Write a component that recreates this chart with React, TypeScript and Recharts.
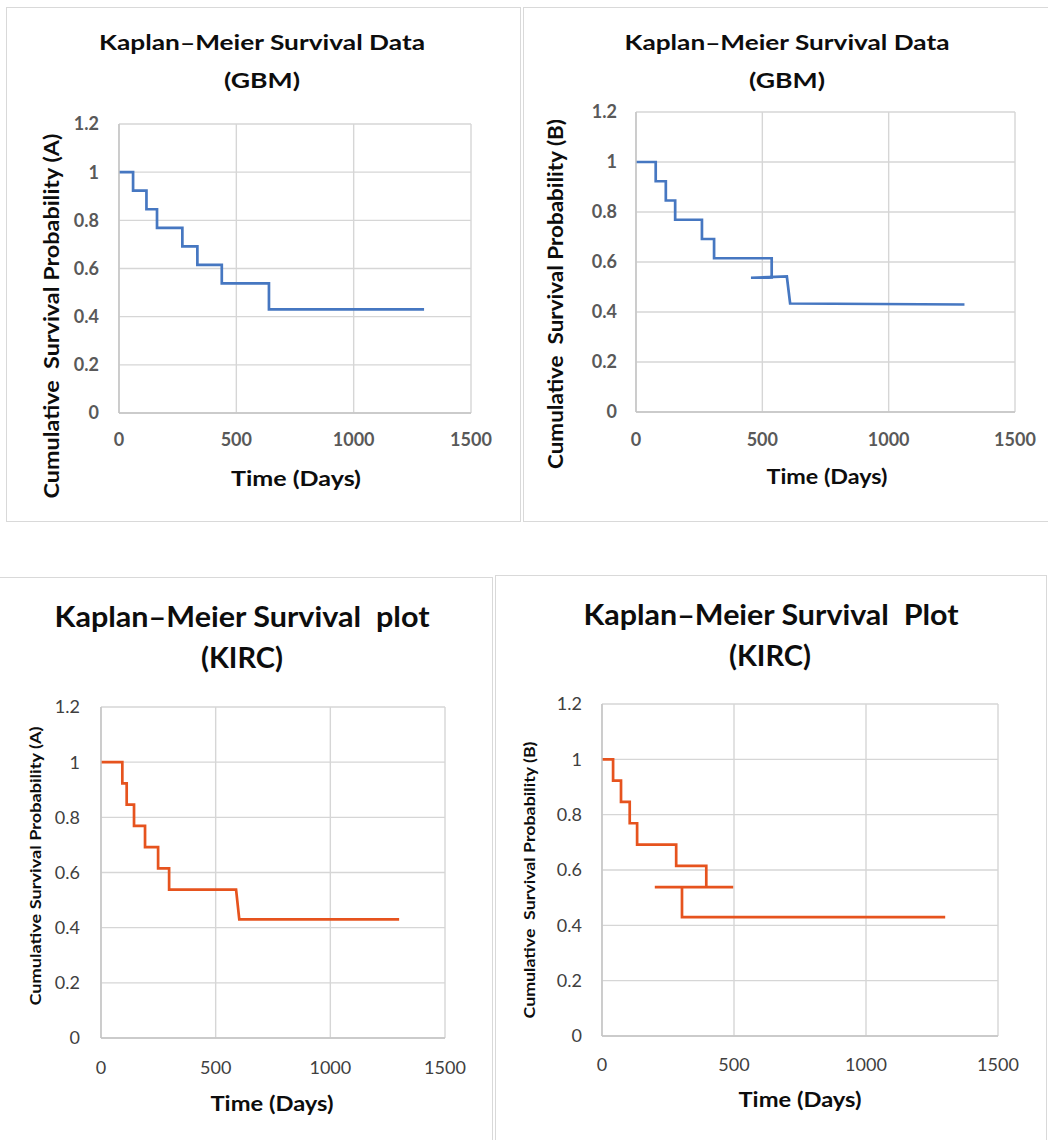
import React from "react";
import { LineChart, Line, XAxis, YAxis, CartesianGrid } from "recharts";

// axis ticks shared by all four plots
const xTicks = [0, 500, 1000, 1500];
const yTicks = [0, 0.2, 0.4, 0.6, 0.8, 1, 1.2];

// GBM (A) - step curve vertices
const gbmATime = [0, 60, 60, 117, 117, 162, 162, 270, 270, 334, 334, 438, 438, 639, 639, 1300];
const gbmASurv = [1, 1, 0.923, 0.923, 0.846, 0.846, 0.769, 0.769, 0.692, 0.692, 0.615, 0.615, 0.538, 0.538, 0.43, 0.43];

// GBM (B)
const gbmBTime = [0, 78, 78, 118, 118, 155, 155, 261, 261, 309, 309, 537, 537, 455, 597, 610, 1300];
const gbmBSurv = [1, 1, 0.923, 0.923, 0.846, 0.846, 0.769, 0.769, 0.692, 0.692, 0.615, 0.615, 0.537, 0.537, 0.542, 0.434, 0.43];

// KIRC (A)
const kircATime = [0, 93, 93, 112, 112, 144, 144, 192, 192, 249, 249, 297, 297, 589, 603, 1300];
const kircASurv = [1, 1, 0.923, 0.923, 0.846, 0.846, 0.769, 0.769, 0.692, 0.692, 0.615, 0.615, 0.538, 0.538, 0.43, 0.43];

// KIRC (B)
const kircBTime = [0, 42, 42, 72, 72, 105, 105, 133, 133, 281, 281, 395, 395, 497, 200, 303, 303, 1300];
const kircBSurv = [1, 1, 0.923, 0.923, 0.846, 0.846, 0.769, 0.769, 0.692, 0.692, 0.615, 0.615, 0.538, 0.538, 0.538, 0.538, 0.43, 0.43];

const BLUE = "#4677c1";
const ORANGE = "#e6531e";
const FONT = "Lato, 'Open Sans', sans-serif";

const toPoints = (time: number[], surv: number[]) =>
  time.map((t, i) => ({ t, s: surv[i] }));

interface PlotRect {
  l: number;
  t: number;
  r: number;
  b: number;
}

interface KMPanelProps {
  plot: PlotRect;
  time: number[];
  surv: number[];
  color: string;
  tickSize: number;
  tickBold: boolean;
  tickColor: string;
  xGap: number;
  yGap: number;
}

const Y_W = 60;
const X_H = 60;
const M = { top: 15, right: 30, bottom: 0, left: 0 };

const KMPanel = ({ plot, time, surv, color, tickSize, tickBold, tickColor, xGap, yGap }: KMPanelProps) => {
  const width = plot.r - plot.l + Y_W + M.right;
  const height = plot.b - plot.t + M.top + X_H;
  const tick = {
    fill: tickColor,
    fontSize: tickSize,
    fontWeight: tickBold ? 700 : 400,
    fontFamily: FONT,
  };
  return (
    <div style={{ position: "absolute", left: plot.l - Y_W, top: plot.t - M.top }}>
      <LineChart width={width} height={height} data={toPoints(time, surv)} margin={M}>
        <CartesianGrid stroke="#d6d6d6" strokeWidth={1.4} />
        <XAxis
          dataKey="t"
          type="number"
          domain={[0, 1500]}
          ticks={xTicks}
          height={X_H}
          tick={tick}
          tickLine={false}
          tickSize={0}
          tickMargin={xGap}
          axisLine={{ stroke: "#c4c4c4", strokeWidth: 1.4 }}
          allowDataOverflow
        />
        <YAxis
          type="number"
          domain={[0, 1.2]}
          ticks={yTicks}
          width={Y_W}
          tick={tick}
          tickLine={false}
          tickSize={0}
          tickMargin={yGap}
          axisLine={{ stroke: "#c4c4c4", strokeWidth: 1.4 }}
        />
        <Line
          type="linear"
          dataKey="s"
          stroke={color}
          strokeWidth={2.7}
          dot={false}
          isAnimationActive={false}
        />
      </LineChart>
    </div>
  );
};

interface CaptionProps {
  x: number;
  y: number;
  size: number;
  length: number;
  text: string;
  rotate?: boolean;
}

// title / axis title text, sized to the width it takes in the original
const Caption = ({ x, y, size, length, text, rotate }: CaptionProps) => (
  <text
    x={x}
    y={y}
    textAnchor="middle"
    fontFamily={FONT}
    fontWeight={700}
    fontSize={size}
    fill="#0d0d0d"
    textLength={length}
    lengthAdjust="spacingAndGlyphs"
    style={{ whiteSpace: "pre" }}
    transform={rotate ? `rotate(-90 ${x} ${y})` : undefined}
  >
    {text}
  </text>
);

const box = (left: number, top: number, width: number, height: number): React.CSSProperties => ({
  position: "absolute",
  left,
  top,
  width,
  height,
  boxSizing: "border-box",
  border: "1.5px solid #d9d9d9",
});

export default function App() {
  return (
    <div
      style={{
        position: "absolute",
        left: 0,
        top: 0,
        width: 1048,
        height: 1140,
        overflow: "hidden",
        background: "#fff",
      }}
    >
      <div style={box(6, 7, 515, 515)} />
      <div style={box(523, 7, 540, 515)} />
      <div style={box(-4, 577, 497, 600)} />
      <div style={box(495, 575, 552, 600)} />

      <KMPanel plot={{ l: 119, t: 124, r: 471, b: 413 }} time={gbmATime} surv={gbmASurv} color={BLUE} tickSize={18} tickBold tickColor="#595959" xGap={20} yGap={20} />
      <KMPanel plot={{ l: 636, t: 112, r: 1015, b: 412 }} time={gbmBTime} surv={gbmBSurv} color={BLUE} tickSize={18} tickBold tickColor="#595959" xGap={21} yGap={19} />
      <KMPanel plot={{ l: 101, t: 707, r: 445, b: 1038 }} time={kircATime} surv={kircASurv} color={ORANGE} tickSize={18} tickBold={false} tickColor="#404040" xGap={23} yGap={21} />
      <KMPanel plot={{ l: 602, t: 704, r: 998, b: 1036 }} time={kircBTime} surv={kircBSurv} color={ORANGE} tickSize={18} tickBold={false} tickColor="#404040" xGap={22} yGap={20} />

      <svg
        width={1048}
        height={1140}
        style={{ position: "absolute", left: 0, top: 0, pointerEvents: "none" }}
      >
        <Caption x={262} y={50} size={21.5} length={326} text="Kaplan–Meier Survival Data" />
        <Caption x={262} y={88} size={21.5} length={76} text="(GBM)" />
        <Caption x={296} y={486} size={21} length={130} text="Time (Days)" />
        <Caption x={59} y={316} size={21} length={365} text="Cumulative  Survival Probability (A)" rotate />

        <Caption x={787} y={50} size={21.5} length={325} text="Kaplan–Meier Survival Data" />
        <Caption x={787} y={88} size={21.5} length={76} text="(GBM)" />
        <Caption x={827} y={484} size={20} length={121} text="Time (Days)" />
        <Caption x={563} y={294} size={21} length={350} text="Cumulative  Survival Probability (B)" rotate />

        <Caption x={242} y={627} size={28} length={375} text="Kaplan–Meier Survival  plot" />
        <Caption x={242} y={668} size={28} length={82} text="(KIRC)" />
        <Caption x={272} y={1111} size={20} length={123} text="Time (Days)" />
        <Caption x={41} y={866} size={16} length={279} text="Cumulative Survival Probability (A)" rotate />

        <Caption x={771} y={625} size={28} length={375} text="Kaplan–Meier Survival  Plot" />
        <Caption x={770} y={666} size={28} length={82} text="(KIRC)" />
        <Caption x={800} y={1107} size={20} length={123} text="Time (Days)" />
        <Caption x={535} y={880} size={16} length={277} text="Cumulative  Survival Probability (B)" rotate />
      </svg>
    </div>
  );
}
